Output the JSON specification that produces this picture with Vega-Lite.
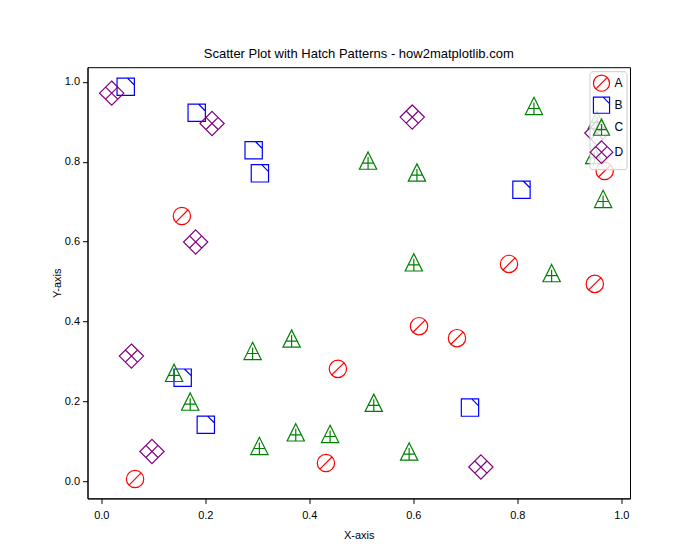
{
  "$schema": "https://vega.github.io/schema/vega-lite/v6.json",
  "autosize": {"type": "none"},
  "padding": {"left": 87.5, "top": 67.2, "right": 70, "bottom": 61.6},
  "width": 542.5,
  "height": 431.2,
  "background": "white",
  "title": {"text": "Scatter Plot with Hatch Patterns - how2matplotlib.com", "fontSize": 13, "fontWeight": "normal", "font": "Liberation Sans", "color": "black", "anchor": "middle", "offset": 6},
  "data": {"values": [
    {"x": 0.155, "y": 0.664, "category": "A"},
    {"x": 0.065, "y": 0.005, "category": "A"},
    {"x": 0.455, "y": 0.281, "category": "A"},
    {"x": 0.611, "y": 0.388, "category": "A"},
    {"x": 0.684, "y": 0.358, "category": "A"},
    {"x": 0.784, "y": 0.544, "category": "A"},
    {"x": 0.949, "y": 0.494, "category": "A"},
    {"x": 0.968, "y": 0.777, "category": "A"},
    {"x": 0.432, "y": 0.045, "category": "A"},
    {"x": 0.047, "y": 0.988, "category": "B"},
    {"x": 0.1835, "y": 0.923, "category": "B"},
    {"x": 0.293, "y": 0.829, "category": "B"},
    {"x": 0.305, "y": 0.771, "category": "B"},
    {"x": 0.808, "y": 0.730, "category": "B"},
    {"x": 0.1565, "y": 0.259, "category": "B"},
    {"x": 0.201, "y": 0.141, "category": "B"},
    {"x": 0.709, "y": 0.184, "category": "B"},
    {"x": 0.832, "y": 0.940, "category": "C"},
    {"x": 0.948, "y": 0.817, "category": "C"},
    {"x": 0.965, "y": 0.707, "category": "C"},
    {"x": 0.866, "y": 0.521, "category": "C"},
    {"x": 0.513, "y": 0.803, "category": "C"},
    {"x": 0.607, "y": 0.773, "category": "C"},
    {"x": 0.601, "y": 0.548, "category": "C"},
    {"x": 0.366, "y": 0.357, "category": "C"},
    {"x": 0.291, "y": 0.326, "category": "C"},
    {"x": 0.140, "y": 0.271, "category": "C"},
    {"x": 0.171, "y": 0.199, "category": "C"},
    {"x": 0.304, "y": 0.088, "category": "C"},
    {"x": 0.374, "y": 0.122, "category": "C"},
    {"x": 0.440, "y": 0.118, "category": "C"},
    {"x": 0.524, "y": 0.196, "category": "C"},
    {"x": 0.592, "y": 0.074, "category": "C"},
    {"x": 0.953, "y": 0.905, "category": "C"},
    {"x": 0.020, "y": 0.972, "category": "D"},
    {"x": 0.213, "y": 0.896, "category": "D"},
    {"x": 0.598, "y": 0.912, "category": "D"},
    {"x": 0.1815, "y": 0.599, "category": "D"},
    {"x": 0.058, "y": 0.313, "category": "D"},
    {"x": 0.0975, "y": 0.074, "category": "D"},
    {"x": 0.730, "y": 0.035, "category": "D"},
    {"x": 0.953, "y": 0.872, "category": "D"}
  ]},
  "mark": {"type": "point", "filled": false, "strokeWidth": 1.2, "opacity": 1, "size": 300},
  "encoding": {
    "x": {"field": "x", "type": "quantitative", "scale": {"domain": [-0.0265, 1.0167], "nice": false, "zero": false},
      "axis": {"title": "X-axis", "values": [0, 0.2, 0.4, 0.6, 0.8, 1.0], "format": ".1f", "titlePadding": 9, "labelPadding": 6}},
    "y": {"field": "y", "type": "quantitative", "scale": {"domain": [-0.0436, 1.037], "nice": false, "zero": false},
      "axis": {"title": "Y-axis", "values": [0, 0.2, 0.4, 0.6, 0.8, 1.0], "format": ".1f", "titlePadding": 2}},
    "color": {"field": "category", "type": "nominal",
      "scale": {"domain": ["A", "B", "C", "D"], "range": ["#ff0000", "#0000ff", "#008000", "#800080"]},
      "legend": {"title": null, "orient": "top-right", "offset": 4}},
    "shape": {"field": "category", "type": "nominal",
      "scale": {"domain": ["A", "B", "C", "D"], "range": [
        "M-1,0A1,1,0,1,1,1,0A1,1,0,1,1,-1,0Z M-0.7,0.7L0.7,-0.7",
        "M-1,-1L1,-1L1,1L-1,1Z M0.2,-1L1,-0.2",
        "M0,-1L1,1L-1,1Z M0,-0.4L0,1 M-0.6,0.3L0.6,0.3",
        "M0,-1.4L1.4,0L0,1.4L-1.4,0Z M-0.7,-0.7L0.7,0.7 M-0.7,0.7L0.7,-0.7"
      ]},
      "legend": {"title": null, "orient": "top-right", "offset": 4}}
  },
  "config": {
    "font": "Liberation Sans",
    "view": {"stroke": "black", "strokeWidth": 1},
    "axis": {"grid": false, "domainColor": "black", "tickColor": "black", "labelColor": "black", "titleColor": "black",
      "titleFontWeight": "normal", "tickSize": 5, "labelFontSize": 11, "titleFontSize": 11, "domainWidth": 1, "tickWidth": 1, "labelPadding": 3},
    "legend": {"fillColor": "rgba(255,255,255,0.8)", "strokeColor": "#cccccc", "cornerRadius": 3, "padding": 3,
      "symbolSize": 260, "symbolStrokeWidth": 1.2, "labelFontSize": 12, "rowPadding": 0, "labelColor": "black", "symbolFillColor": "transparent"}
  }
}
